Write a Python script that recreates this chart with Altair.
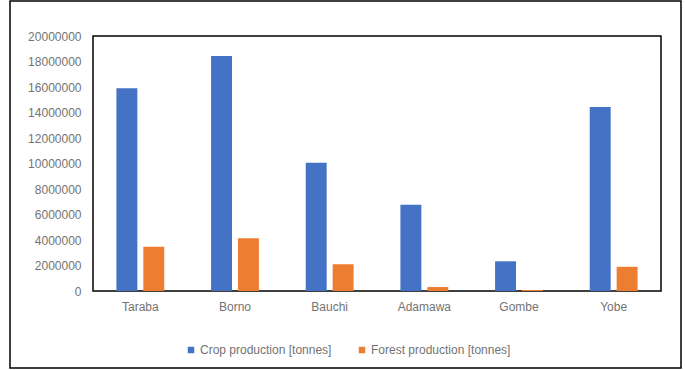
import altair as alt
import pandas as pd

states = ["Taraba", "Borno", "Bauchi", "Adamawa", "Gombe", "Yobe"]
crop = [15900000, 18430000, 10060000, 6770000, 2330000, 14430000]
forest = [3480000, 4130000, 2090000, 310000, 80000, 1900000]
series = ["Crop production [tonnes]", "Forest production [tonnes]"]
y_ticks = [0, 2000000, 4000000, 6000000, 8000000, 10000000, 12000000,
           14000000, 16000000, 18000000, 20000000]

rows = []
for s, c, f in zip(states, crop, forest):
    rows.append({"state": s, "series": series[0], "value": c})
    rows.append({"state": s, "series": series[1], "value": f})
df = pd.DataFrame(rows)

W, H = 568, 255
FONT = "Liberation Sans"
GREY = "#737373"

bars = alt.Chart(df).mark_bar().encode(
    x=alt.X("state:N", sort=states, title=None,
            scale=alt.Scale(paddingInner=0, paddingOuter=0),
            axis=alt.Axis(labelAngle=0, labelFont=FONT, labelFontSize=12,
                          labelColor=GREY, ticks=False, domain=False,
                          labelPadding=10)),
    xOffset=alt.XOffset("series:N", sort=series,
                        scale=alt.Scale(paddingInner=0.222, paddingOuter=0.87)),
    y=alt.Y("value:Q", title=None,
            scale=alt.Scale(domain=[0, 20000000], nice=False),
            axis=alt.Axis(values=y_ticks, format="d", labelFont=FONT,
                          labelFontSize=12, labelColor=GREY, ticks=False,
                          domain=False, grid=False, labelPadding=12)),
    color=alt.Color("series:N", sort=series,
                    scale=alt.Scale(domain=series, range=["#4472C4", "#ED7D31"]),
                    legend=alt.Legend(title=None, orient="none", direction="horizontal",
                                      legendX=92, legendY=308, symbolType="square",
                                      symbolSize=42, symbolStrokeWidth=0,
                                      labelFont=FONT, labelFontSize=12,
                                      labelColor=GREY, columnPadding=24,
                                      labelOffset=3)),
)

frame = alt.Chart(pd.DataFrame({"a": [0]})).mark_rect(
    fill=None, stroke="black", strokeWidth=1.5
).encode(
    x=alt.value(-83), x2=alt.value(588), y=alt.value(-35), y2=alt.value(332)
)

chart = alt.layer(bars, frame).properties(
    width=W, height=H,
    padding={"left": 93, "top": 36, "right": 24, "bottom": 79},
    autosize=alt.AutoSizeParams(type="none"),
    background="white",
).configure_view(stroke="black", strokeWidth=1.5)

chart.save("out.html", embed_options={"renderer": "svg", "actions": False})
